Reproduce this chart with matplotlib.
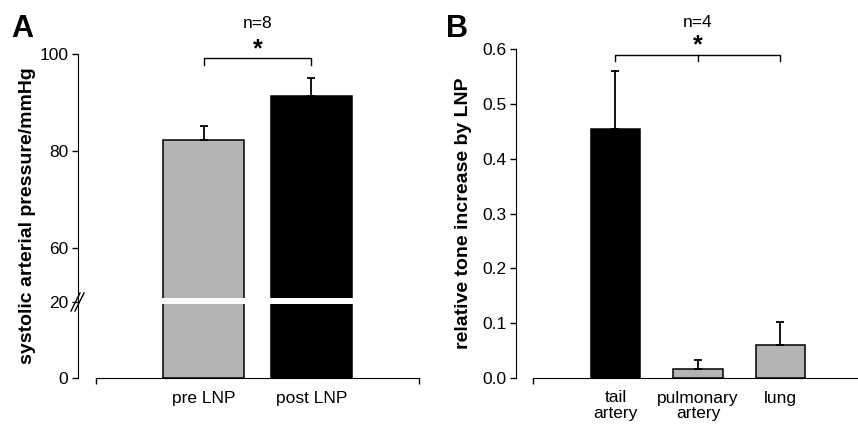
import numpy as np
import matplotlib
matplotlib.use("Agg")
import matplotlib.pyplot as plt
from matplotlib.lines import Line2D

plt.rcParams['font.family'] = ['Liberation Sans', 'DejaVu Sans']

# ---- data ----
a_categories = ["pre LNP", "post LNP"]
a_values = [82.3, 91.4]
a_errors = [2.8, 3.6]
a_colors = ["#b4b4b4", "#000000"]
a_yticks = [0, 20, 60, 80, 100]

b_categories = ["tail\nartery", "pulmonary\nartery", "lung"]
b_values = [0.455, 0.016, 0.060]
b_errors = [0.105, 0.017, 0.042]
b_colors = ["#000000", "#b4b4b4", "#b4b4b4"]
b_yticks = [0.0, 0.1, 0.2, 0.3, 0.4, 0.5, 0.6]

W, H = 858, 426
fig = plt.figure(figsize=(W / 100, H / 100), dpi=100)

def fx(px):
    return px / W

def fy(py):
    return 1 - py / H

# broken scale for panel A
def fwd(v):
    v = np.asarray(v, float)
    return np.where(v <= 20, v * 3.8,
                    np.where(v <= 50, 76 + (v - 20) * (5 / 30), 81 + (v - 50) * 4.87))

def inv(y):
    y = np.asarray(y, float)
    return np.where(y <= 76, y / 3.8,
                    np.where(y <= 81, 20 + (y - 76) * 6, 50 + (y - 81) / 4.87))

tick_fs = 12.5
lab_fs = 14

# ---------------- Panel A ----------------
axA = fig.add_axes([fx(96), fy(378), fx(419 - 96), (378 - 54) / H])
axA.set_yscale('function', functions=(fwd, inv))
xa = np.arange(len(a_values))
axA.bar(xa, a_values, width=0.755, color=a_colors, edgecolor='black', linewidth=1.1, zorder=2)
axA.errorbar(xa, a_values, yerr=[np.zeros(len(a_errors)), a_errors], fmt='none',
             ecolor='black', elinewidth=1.3, capsize=2.7, capthick=1.3, zorder=3)
axA.axhspan(19.5, 42, color='white', zorder=4, lw=0)
axA.set_xlim(-1, 2)
axA.set_ylim(0, 100)
axA.set_yticks(a_yticks)
axA.set_yticklabels([str(t) for t in a_yticks])
axA.set_xticks(xa)
axA.set_xticklabels(a_categories)
axA.set_xticks([-1, 2], minor=True)
axA.tick_params(axis='x', which='major', length=0, pad=9, labelsize=tick_fs)
axA.tick_params(axis='x', which='minor', length=4, direction='out', width=1)
axA.tick_params(axis='y', which='minor', length=0)
axA.tick_params(axis='y', which='major', length=4, width=1, pad=3, labelsize=tick_fs)
for s in ['top', 'right']:
    axA.spines[s].set_visible(False)
axA.spines['left'].set_position(('outward', 18 * 0.72))
axA.set_ylabel("systolic arterial pressure/mmHg", fontsize=lab_fs, fontweight='bold', labelpad=2.5)
# significance bracket
axA.plot([0, 0, 1, 1], [97.7, 99.1, 99.1, 97.7], color='black', lw=1, clip_on=False)
axA.text(0.5, 101.0, "*", ha='center', va='center', fontsize=18, fontweight='bold')
axA.text(0.5, 106.3, "n=8", ha='center', va='center', fontsize=tick_fs)
# axis break marks
for dx in (0, 4):
    fig.add_artist(Line2D([fx(71 + dx), fx(80 + dx)], [fy(311), fy(293)],
                          color='black', lw=1, transform=fig.transFigure))
fig.text(fx(22), fy(29), "A", fontsize=22, fontweight='bold', ha='center', va='center')

# ---------------- Panel B ----------------
axB = fig.add_axes([fx(533), fy(378), fx(858 - 533), (378 - 49.3) / H])
xb = np.arange(len(b_values))
axB.bar(xb, b_values, width=0.6, color=b_colors, edgecolor='black', linewidth=1.1, zorder=2)
axB.errorbar(xb, b_values, yerr=[np.zeros(len(b_errors)), b_errors], fmt='none',
             ecolor='black', elinewidth=1.3, capsize=2.7, capthick=1.3, zorder=3)
axB.set_xlim(-1, 2.94)
axB.set_ylim(0, 0.6)
axB.set_yticks(b_yticks)
axB.set_yticklabels([f"{t:.1f}" for t in b_yticks])
axB.set_xticks(xb)
axB.set_xticklabels(b_categories, linespacing=1.05)
axB.set_xticks([-1], minor=True)
axB.tick_params(axis='x', which='major', length=0, pad=9, labelsize=tick_fs)
axB.tick_params(axis='x', which='minor', length=4, direction='out', width=1)
axB.tick_params(axis='y', which='major', length=4, width=1, pad=3, labelsize=tick_fs)
for s in ['top', 'right']:
    axB.spines[s].set_visible(False)
axB.spines['left'].set_position(('outward', 17 * 0.72))
axB.set_ylabel("relative tone increase by LNP", fontsize=lab_fs, fontweight='bold', labelpad=7)
axB.plot([0, 0, 2, 2], [0.578, 0.5896, 0.5896, 0.578], color='black', lw=1, clip_on=False)
axB.plot([1, 1], [0.5896, 0.578], color='black', lw=1, clip_on=False)
axB.text(1, 0.608, "*", ha='center', va='center', fontsize=18, fontweight='bold')
axB.text(1, 0.649, "n=4", ha='center', va='center', fontsize=tick_fs)
fig.text(fx(457), fy(29), "B", fontsize=22, fontweight='bold', ha='center', va='center')

fig.savefig("out.png", dpi=100)
